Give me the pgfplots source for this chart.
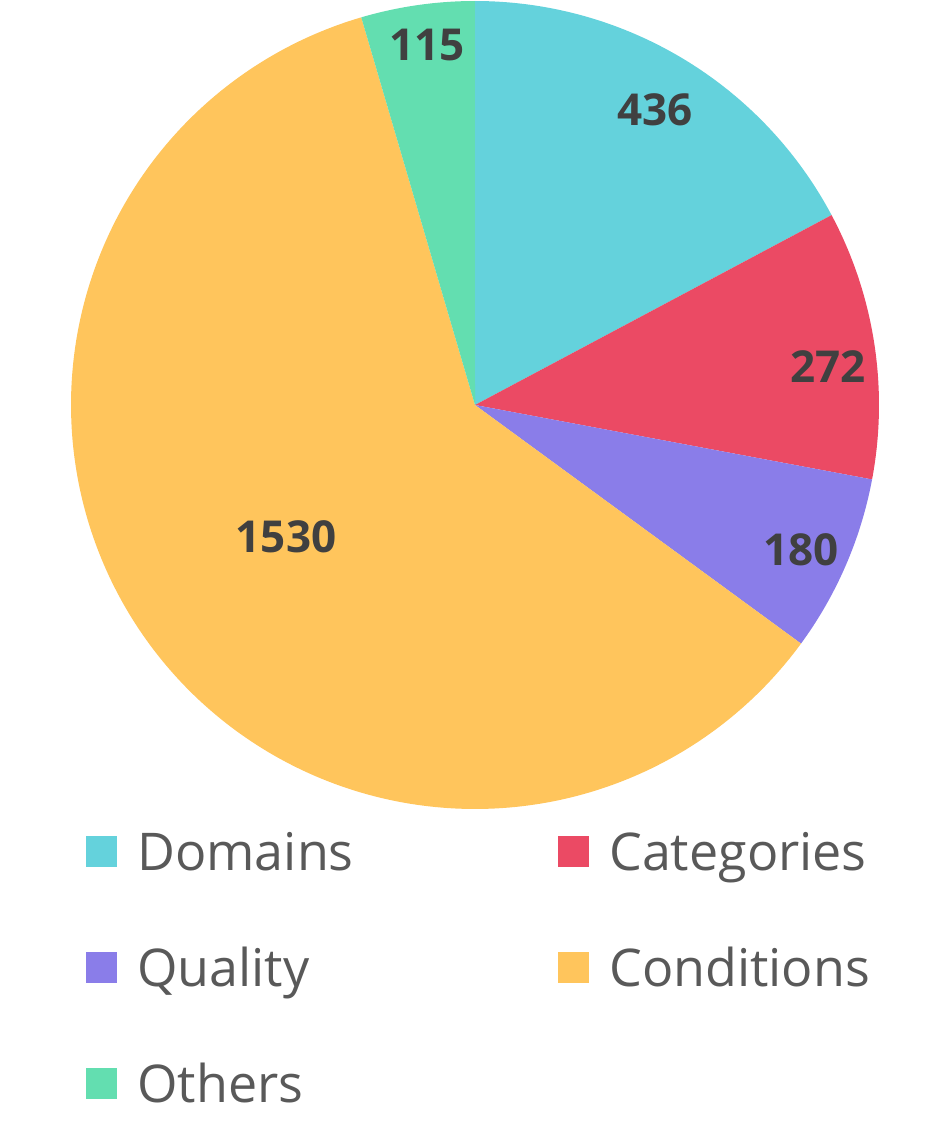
\documentclass[border=0pt]{standalone}
\usepackage{pgfplots}
\pgfplotsset{compat=1.18}
\usepackage{fontspec}
\setmainfont{Open Sans}
\definecolor{cDom}{HTML}{64D2DC}
\definecolor{cCat}{HTML}{EB4A64}
\definecolor{cQua}{HTML}{8A7DE9}
\definecolor{cCon}{HTML}{FFC55C}
\definecolor{cOth}{HTML}{63DEB0}
\definecolor{lab}{HTML}{404040}
\definecolor{leg}{HTML}{595959}
% data
\def\vDom{436}\def\vCat{272}\def\vQua{180}\def\vCon{1530}\def\vOth{115}
\pgfmathsetmacro\tot{\vDom+\vCat+\vQua+\vCon+\vOth}
\pgfmathsetmacro\bA{90}
\pgfmathsetmacro\bB{\bA-360*(\vDom/\tot)}
\pgfmathsetmacro\bC{\bB-360*(\vCat/\tot)}
\pgfmathsetmacro\bD{\bC-360*(\vQua/\tot)}
\pgfmathsetmacro\bE{\bD-360*(\vCon/\tot)}
\pgfmathsetmacro\bF{\bE-360*(\vOth/\tot)}
\def\cx{475}\def\cy{735}\def\r{404}
\newcommand{\lent}[1]{\makebox[300.75pt][l]{\rule[-12pt]{0pt}{54pt}#1}}
\newcommand{\rent}[1]{\rule[-12pt]{0pt}{54pt}#1}
\begin{document}
\begin{tikzpicture}
\begin{axis}[
  x=0.75pt, y=0.75pt, xmin=0, xmax=951, ymin=0, ymax=1140,
  scale only axis, hide axis, clip=false,
  legend columns=2, legend cell align=left,
  legend image code/.code={\fill[#1] (0pt,-18pt) rectangle (23.25pt,5.25pt);},
  legend style={draw=none, fill=none, inner sep=0pt, at={(axis cs:86,326)}, anchor=north west,
    nodes={inner sep=0pt}, column sep=15pt, row sep=43.5pt,
    font=\fontsize{39}{39}\selectfont, text=leg},
]
\path (rel axis cs:0,0) rectangle (rel axis cs:1,1);
\addplot[fill=cDom, draw=none, domain=\bB:\bA, samples=90, variable=\t] ({\cx+\r*cos(\t)},{\cy+\r*sin(\t)}) -- (axis cs:\cx,\cy) -- cycle;
\addplot[fill=cCat, draw=none, domain=\bC:\bB, samples=60, variable=\t] ({\cx+\r*cos(\t)},{\cy+\r*sin(\t)}) -- (axis cs:\cx,\cy) -- cycle;
\addplot[fill=cQua, draw=none, domain=\bD:\bC, samples=50, variable=\t] ({\cx+\r*cos(\t)},{\cy+\r*sin(\t)}) -- (axis cs:\cx,\cy) -- cycle;
\addplot[fill=cCon, draw=none, domain=\bE:\bD, samples=250, variable=\t] ({\cx+\r*cos(\t)},{\cy+\r*sin(\t)}) -- (axis cs:\cx,\cy) -- cycle;
\addplot[fill=cOth, draw=none, domain=\bF:\bE, samples=40, variable=\t] ({\cx+\r*cos(\t)},{\cy+\r*sin(\t)}) -- (axis cs:\cx,\cy) -- cycle;
\addlegendentry{\lent{Domains}}
\addlegendentry{\rent{Categories}}
\addlegendentry{\lent{Quality}}
\addlegendentry{\rent{Conditions}}
\addlegendentry{\lent{Others}}
\begin{scope}[every node/.style={font=\fontsize{33}{33}\selectfont\bfseries, text=lab}]
\node at (axis cs:655,1030) {\vDom};
\node at (axis cs:828,773) {\vCat};
\node at (axis cs:801,590) {\vQua};
\node at (axis cs:286,603) {\vCon};
\node at (axis cs:427,1095) {\vOth};
\end{scope}
\end{axis}
\end{tikzpicture}
\end{document}
